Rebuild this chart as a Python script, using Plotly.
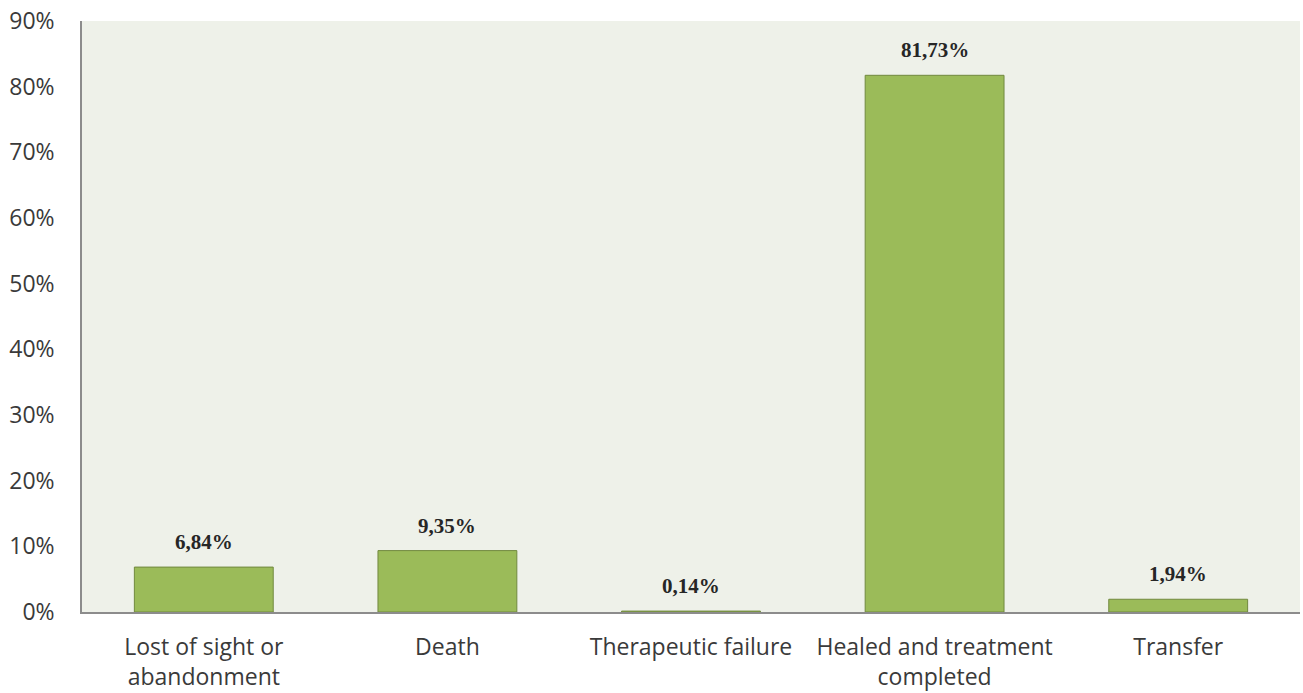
import plotly.graph_objects as go

categories = ["Lost of sight or<br>abandonment", "Death", "Therapeutic failure",
              "Healed and treatment<br>completed", "Transfer"]
values = [6.84, 9.35, 0.14, 81.73, 1.94]
labels = ["6,84%", "9,35%", "0,14%", "81,73%", "1,94%"]
y_ticks = [0, 10, 20, 30, 40, 50, 60, 70, 80, 90]
y_ticktext = [f"{v}%" for v in y_ticks]

fig = go.Figure()
fig.add_trace(go.Bar(
    x=categories, y=values,
    marker=dict(color="#9bbb59", line=dict(color="#71893f", width=1)),
    width=0.57,
))
for c, v, t in zip(categories, values, labels):
    fig.add_annotation(x=c, y=v, text=f"<b>{t}</b>", showarrow=False,
                       yanchor="bottom", yshift=11,
                       font=dict(family="Liberation Serif", size=21, color="#262626"))

fig.update_layout(
    width=1303, height=693,
    margin=dict(l=82, r=3, t=21, b=81),
    paper_bgcolor="white", plot_bgcolor="#eef1e9",
    showlegend=False,
    font=dict(family="Open Sans", size=23, color="#3a3a3a"),
)
fig.update_yaxes(range=[0, 90], tickvals=y_ticks, ticktext=y_ticktext,
                 showgrid=False, zeroline=False, showline=True, linecolor="#8c8c8c",
                 linewidth=1.5, ticks="", ticklabelstandoff=21, automargin=False,
                 tickfont=dict(size=23, color="#3a3a3a"))
fig.update_xaxes(showgrid=False, showline=True, linecolor="#8c8c8c", linewidth=1.5,
                 ticks="", ticklabelstandoff=14, automargin=False,
                 tickfont=dict(size=23, color="#3a3a3a"))

fig.write_html("out.html")
